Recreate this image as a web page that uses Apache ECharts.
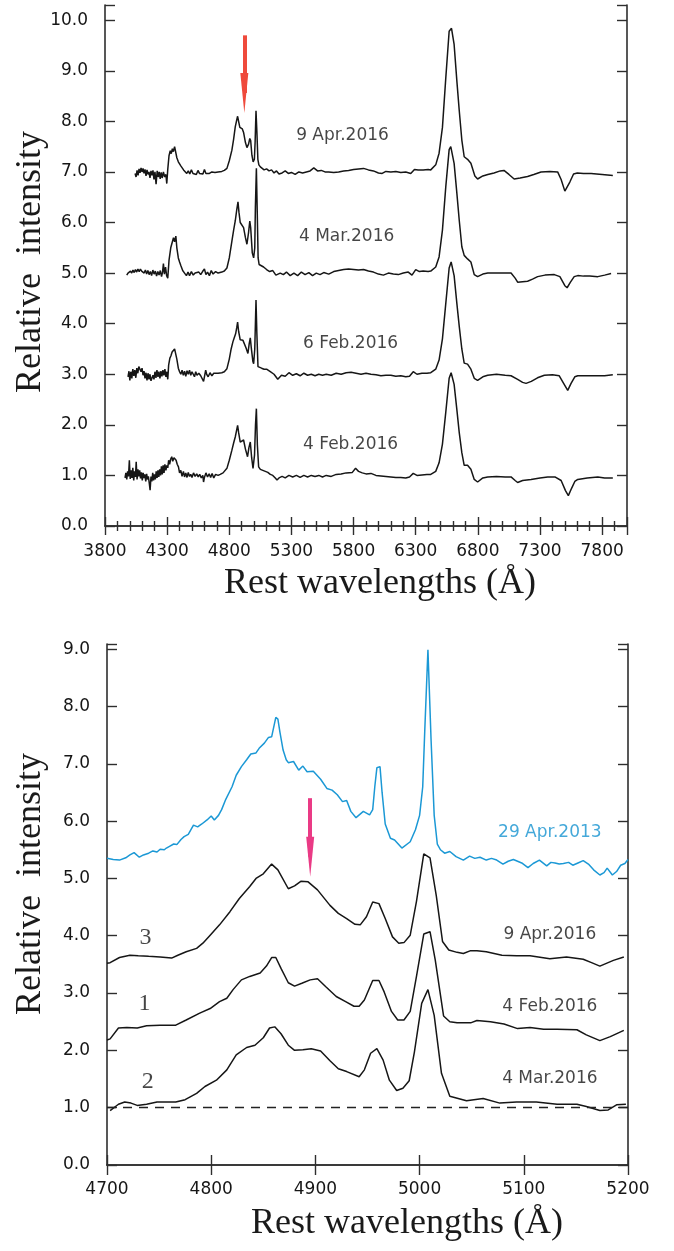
<!DOCTYPE html>
<html><head><meta charset="utf-8">
<script src="https://cdn.jsdelivr.net/npm/echarts@6/dist/echarts.min.js"></script>
<style>html,body{margin:0;padding:0;background:#fff}#c{width:674px;height:1251px}</style>
</head><body><div id="c"></div>
<script>
// ---------- TOP PANEL: full spectra (rest wavelength Å, relative intensity) ----------
const spec9Apr2016 = [[4042,6.97],[4050,6.9],[4058,7.03],[4066,6.93],[4074,7.06],[4082,6.98],[4090,7.08],[4098,7.0],[4106,7.07],[4114,6.97],[4122,7.05],[4130,6.92],[4138,7.04],[4146,6.95],[4154,7.0],[4162,6.88],[4170,7.02],[4178,6.93],[4186,7.03],[4194,6.85],[4202,7.0],[4211,6.76],[4220,7.02],[4228,6.9],[4236,7.0],[4244,6.86],[4252,6.99],[4260,6.88],[4270,7.0],[4280,6.9],[4290,6.95],[4297,6.77],[4305,7.05],[4315,7.32],[4325,7.42],[4333,7.36],[4342,7.46],[4350,7.4],[4360,7.5],[4369,7.53],[4378,7.28],[4390,7.2],[4400,7.17],[4410,7.12],[4422,7.1],[4432,7.04],[4445,7.07],[4458,6.97],[4470,7.02],[4482,6.96],[4495,7.04],[4508,6.97],[4520,7.0],[4535,6.95],[4548,7.03],[4560,6.97],[4575,7.0],[4588,6.96],[4600,7.05],[4612,6.97],[4625,7.0],[4640,6.97],[4660,7.0],[4685,6.99],[4710,7.0],[4740,7.01],[4760,7.03],[4781,7.07],[4800,7.22],[4821,7.43],[4835,7.65],[4848,7.89],[4860,8.03],[4867,8.1],[4875,8.0],[4885,7.88],[4894,7.89],[4905,7.85],[4915,7.78],[4930,7.58],[4942,7.48],[4955,7.55],[4965,7.66],[4972,7.62],[4982,7.33],[4992,7.2],[5002,7.25],[5008,7.6],[5015,8.21],[5022,7.8],[5030,7.25],[5038,7.14],[5050,7.1],[5065,7.08],[5080,7.04],[5100,7.06],[5120,7.02],[5140,7.04],[5160,6.98],[5180,7.02],[5200,6.96],[5225,6.98],[5250,7.02],[5275,6.97],[5300,6.99],[5330,6.95],[5360,7.0],[5390,6.98],[5420,7.0],[5450,7.02],[5480,7.08],[5510,7.02],[5540,7.03],[5570,7.0],[5600,7.0],[5640,6.99],[5680,7.0],[5720,7.02],[5760,7.03],[5800,7.05],[5840,7.06],[5880,7.07],[5920,7.04],[5960,7.02],[6000,6.98],[6030,6.97],[6060,7.01],[6100,7.0],[6140,7.01],[6180,6.99],[6220,7.0],[6260,6.97],[6290,7.05],[6320,7.04],[6360,7.04],[6400,7.05],[6421,7.04],[6461,7.14],[6488,7.37],[6515,7.88],[6542,8.86],[6569,9.78],[6588,9.84],[6609,9.52],[6631,8.8],[6650,8.22],[6671,7.63],[6690,7.3],[6717,7.25],[6744,7.17],[6776,6.92],[6798,6.86],[6840,6.92],[6880,6.95],[6930,6.98],[6980,7.02],[7010,7.03],[7050,6.95],[7092,6.86],[7140,6.88],[7200,6.91],[7250,6.95],[7308,7.0],[7380,7.01],[7442,7.0],[7470,6.85],[7500,6.62],[7512,6.6],[7540,6.8],[7570,6.96],[7600,6.98],[7650,6.97],[7711,6.97],[7800,6.95],[7886,6.93]];

const spec4Mar2016 = [[3975,4.96],[3985,5.0],[3995,4.97],[4005,5.04],[4015,5.0],[4025,5.06],[4035,5.01],[4045,5.07],[4055,5.02],[4065,5.08],[4075,5.03],[4085,5.08],[4095,5.04],[4105,5.06],[4115,5.0],[4125,5.06],[4135,4.98],[4145,5.05],[4155,4.97],[4165,5.03],[4175,4.95],[4185,5.06],[4195,4.98],[4205,5.04],[4215,4.94],[4225,5.03],[4235,4.96],[4245,5.05],[4255,4.93],[4263,5.02],[4270,5.19],[4278,4.98],[4287,5.12],[4296,4.95],[4305,4.9],[4315,5.25],[4329,5.5],[4340,5.6],[4351,5.7],[4360,5.62],[4370,5.73],[4378,5.5],[4390,5.3],[4400,5.22],[4410,5.15],[4425,5.05],[4440,5.0],[4455,4.95],[4468,5.02],[4480,4.95],[4495,5.03],[4510,4.96],[4525,5.0],[4540,4.97],[4555,5.02],[4570,4.97],[4585,5.03],[4600,5.08],[4612,4.97],[4625,5.02],[4640,4.95],[4655,5.05],[4670,4.98],[4690,5.03],[4710,5.0],[4740,5.02],[4760,5.04],[4781,5.1],[4800,5.3],[4821,5.63],[4835,5.85],[4848,6.03],[4860,6.25],[4870,6.41],[4878,6.2],[4888,6.0],[4900,6.02],[4915,5.9],[4930,5.7],[4942,5.57],[4955,5.8],[4965,6.03],[4972,5.9],[4985,5.4],[4996,5.3],[5005,5.5],[5010,6.3],[5018,7.07],[5025,6.2],[5032,5.3],[5040,5.17],[5055,5.15],[5076,5.12],[5100,5.07],[5125,5.03],[5150,5.05],[5175,4.96],[5190,4.93],[5210,5.0],[5235,4.97],[5260,5.02],[5290,4.95],[5320,5.0],[5350,4.95],[5380,5.02],[5410,4.97],[5440,5.01],[5470,4.95],[5500,5.0],[5530,4.97],[5560,5.01],[5600,4.98],[5640,5.03],[5680,5.05],[5720,5.07],[5760,5.08],[5800,5.07],[5840,5.06],[5880,5.07],[5920,5.04],[5960,5.02],[6000,4.98],[6040,4.96],[6080,5.0],[6120,4.98],[6160,4.97],[6200,5.0],[6240,5.02],[6270,4.96],[6300,5.07],[6330,5.03],[6360,5.04],[6400,5.03],[6421,5.04],[6461,5.12],[6488,5.32],[6515,5.85],[6542,6.71],[6569,7.44],[6582,7.5],[6609,7.17],[6631,6.58],[6650,6.05],[6671,5.52],[6690,5.35],[6717,5.28],[6744,5.22],[6771,4.97],[6798,4.93],[6840,4.98],[6880,5.0],[6950,5.0],[7020,5.0],[7067,5.0],[7100,4.9],[7120,4.82],[7160,4.83],[7200,4.84],[7240,4.88],[7281,4.93],[7340,4.96],[7415,4.97],[7460,4.93],[7500,4.75],[7518,4.71],[7545,4.82],[7575,4.93],[7604,4.95],[7650,4.94],[7700,4.94],[7765,4.93],[7820,4.96],[7872,4.99]];

const spec6Feb2016 = [[3985,2.95],[3993,3.06],[4000,2.88],[4008,3.05],[4016,2.92],[4024,3.1],[4032,2.97],[4040,3.08],[4048,2.93],[4056,3.12],[4064,3.02],[4072,3.15],[4082,3.18],[4090,3.05],[4098,3.12],[4106,2.98],[4114,3.06],[4122,2.92],[4130,3.03],[4138,2.88],[4146,3.02],[4154,2.9],[4162,3.0],[4170,2.87],[4178,2.84],[4186,2.98],[4194,2.9],[4202,3.05],[4210,2.93],[4218,3.08],[4226,2.95],[4234,3.05],[4242,2.92],[4250,3.06],[4258,2.96],[4266,3.08],[4274,2.98],[4282,3.1],[4290,2.95],[4298,3.05],[4305,2.9],[4312,3.18],[4322,3.32],[4330,3.36],[4340,3.44],[4350,3.42],[4360,3.5],[4370,3.53],[4378,3.3],[4390,3.12],[4400,3.05],[4410,3.0],[4420,3.08],[4430,2.98],[4440,3.06],[4450,2.96],[4460,3.07],[4470,3.0],[4480,3.08],[4490,2.98],[4500,3.05],[4510,3.02],[4520,2.95],[4530,3.05],[4540,2.98],[4555,3.02],[4570,2.97],[4585,3.0],[4593,2.86],[4600,2.95],[4610,3.08],[4618,3.0],[4630,2.95],[4645,3.03],[4660,2.97],[4675,3.02],[4690,3.0],[4710,3.02],[4740,3.03],[4760,3.05],[4781,3.11],[4800,3.3],[4815,3.5],[4829,3.64],[4840,3.72],[4851,3.8],[4860,3.92],[4867,4.03],[4875,3.85],[4888,3.68],[4900,3.7],[4910,3.67],[4920,3.67],[4935,3.52],[4950,3.41],[4960,3.6],[4969,3.72],[4978,3.5],[4990,3.25],[4996,3.21],[5005,3.5],[5015,4.47],[5022,3.8],[5031,3.15],[5045,3.13],[5060,3.12],[5080,3.1],[5100,3.1],[5130,3.05],[5160,3.0],[5190,2.9],[5220,2.98],[5250,2.96],[5280,3.03],[5310,2.98],[5340,3.01],[5370,2.97],[5400,3.02],[5430,2.98],[5460,3.0],[5490,2.97],[5520,3.0],[5550,2.98],[5580,3.0],[5620,2.98],[5660,3.02],[5700,3.0],[5740,3.03],[5780,3.04],[5820,3.02],[5860,3.0],[5900,3.02],[5940,3.0],[5980,2.99],[6020,2.97],[6060,2.98],[6100,2.98],[6140,2.96],[6180,2.97],[6220,2.95],[6250,2.96],[6280,3.05],[6310,3.0],[6350,3.02],[6390,3.02],[6421,3.03],[6461,3.1],[6488,3.28],[6515,3.7],[6542,4.4],[6569,5.1],[6585,5.22],[6609,4.95],[6631,4.4],[6650,3.95],[6671,3.5],[6690,3.22],[6717,3.2],[6744,3.1],[6771,2.92],[6798,2.88],[6840,2.95],[6879,2.98],[6950,3.0],[7020,2.98],[7067,2.97],[7120,2.9],[7160,2.84],[7188,2.82],[7230,2.86],[7280,2.93],[7335,2.98],[7400,2.99],[7455,2.97],[7490,2.82],[7523,2.68],[7550,2.82],[7580,2.95],[7604,2.97],[7680,2.97],[7765,2.97],[7820,2.97],[7886,2.99]];

const spec4Feb2016 = [[3961,0.95],[3968,1.05],[3975,0.92],[3982,1.08],[3989,0.98],[3996,1.3],[4003,0.93],[4010,1.1],[4017,0.95],[4024,1.15],[4031,0.9],[4038,1.08],[4045,0.97],[4051,1.27],[4058,0.92],[4065,1.12],[4072,0.98],[4079,1.1],[4086,0.94],[4093,1.06],[4100,0.9],[4107,1.05],[4114,0.95],[4121,1.02],[4128,0.88],[4135,1.03],[4142,0.92],[4149,0.98],[4156,0.85],[4163,0.71],[4170,0.98],[4177,0.88],[4184,1.05],[4191,0.9],[4198,1.02],[4205,0.92],[4212,1.08],[4219,0.95],[4226,1.1],[4233,0.97],[4240,1.12],[4247,1.0],[4254,1.18],[4261,1.02],[4268,1.2],[4275,1.05],[4282,1.22],[4290,1.1],[4297,1.2],[4305,1.15],[4312,1.3],[4320,1.22],[4328,1.32],[4337,1.37],[4345,1.28],[4355,1.35],[4364,1.38],[4372,1.3],[4381,1.22],[4391,1.17],[4400,1.05],[4410,1.1],[4420,0.98],[4431,1.08],[4440,0.97],[4450,1.05],[4460,0.96],[4470,1.06],[4480,0.98],[4490,1.02],[4500,0.96],[4512,1.05],[4525,0.98],[4538,1.03],[4550,0.97],[4562,1.02],[4575,0.95],[4587,1.0],[4593,0.87],[4600,0.96],[4612,1.05],[4625,0.97],[4638,1.03],[4650,0.96],[4662,1.04],[4675,0.95],[4690,1.02],[4710,1.0],[4727,1.02],[4750,1.05],[4765,1.08],[4781,1.14],[4800,1.3],[4821,1.5],[4835,1.64],[4848,1.76],[4858,1.88],[4867,1.99],[4875,1.85],[4888,1.66],[4900,1.68],[4915,1.7],[4930,1.52],[4947,1.37],[4958,1.55],[4969,1.66],[4980,1.35],[4991,1.14],[5003,1.4],[5011,2.0],[5018,2.32],[5026,1.6],[5036,1.17],[5050,1.12],[5070,1.1],[5090,1.08],[5110,1.06],[5130,1.02],[5150,1.0],[5170,0.95],[5184,0.91],[5200,0.95],[5225,0.98],[5250,0.95],[5280,1.0],[5310,0.97],[5340,1.0],[5370,0.96],[5400,1.0],[5430,0.97],[5460,1.0],[5490,0.98],[5520,1.0],[5550,0.97],[5580,1.0],[5620,0.98],[5660,1.02],[5700,1.03],[5740,1.05],[5790,1.06],[5816,1.14],[5840,1.08],[5870,1.05],[5900,1.03],[5940,1.04],[5980,1.0],[6020,0.99],[6060,0.98],[6100,0.97],[6140,0.96],[6180,0.96],[6220,0.95],[6250,0.97],[6280,1.04],[6310,1.0],[6350,1.01],[6390,1.02],[6421,1.02],[6461,1.08],[6488,1.25],[6515,1.62],[6542,2.25],[6569,2.92],[6585,3.03],[6609,2.8],[6631,2.3],[6650,1.85],[6671,1.45],[6690,1.2],[6717,1.2],[6744,1.12],[6771,0.92],[6798,0.87],[6840,0.95],[6879,0.97],[6950,0.98],[7020,0.97],[7067,0.97],[7100,0.9],[7120,0.86],[7160,0.9],[7228,0.92],[7300,0.95],[7362,0.97],[7420,0.97],[7470,0.9],[7505,0.7],[7528,0.6],[7555,0.75],[7580,0.88],[7604,0.92],[7680,0.95],[7765,0.97],[7820,0.95],[7886,0.95]];

const topLabels = ['9 Apr.2016', '4 Mar.2016', '6 Feb.2016', '4 Feb.2016'];

// ---------- BOTTOM PANEL: 4700–5200 Å zoom ----------
const spec29Apr2013 = [[4700,5.35],[4706,5.33],[4712,5.32],[4718,5.36],[4722,5.41],[4726,5.45],[4731,5.37],[4735,5.41],[4740,5.44],[4744,5.48],[4748,5.46],[4751,5.51],[4755,5.5],[4757,5.53],[4760,5.56],[4764,5.6],[4767,5.59],[4771,5.68],[4774,5.73],[4778,5.77],[4783,5.93],[4787,5.9],[4791,5.95],[4796,6.02],[4800,6.09],[4803,6.02],[4807,6.1],[4810,6.2],[4814,6.38],[4820,6.6],[4824,6.8],[4829,6.95],[4834,7.07],[4838,7.17],[4843,7.19],[4846,7.27],[4851,7.36],[4855,7.46],[4858,7.47],[4862,7.81],[4864,7.78],[4866,7.55],[4869,7.24],[4872,7.07],[4874,7.02],[4879,7.04],[4884,6.89],[4888,6.96],[4892,6.86],[4898,6.87],[4905,6.73],[4911,6.57],[4916,6.54],[4921,6.46],[4926,6.34],[4930,6.36],[4934,6.17],[4939,6.06],[4946,6.17],[4952,6.11],[4955,6.2],[4957,6.6],[4959,6.93],[4962,6.95],[4964,6.5],[4967,5.95],[4972,5.7],[4976,5.67],[4983,5.53],[4991,5.64],[4996,5.85],[5000,6.1],[5003,6.6],[5005,7.6],[5008,8.99],[5011,7.42],[5014,6.1],[5017,5.6],[5020,5.5],[5024,5.44],[5029,5.47],[5035,5.38],[5042,5.32],[5048,5.39],[5053,5.35],[5058,5.37],[5064,5.32],[5069,5.35],[5074,5.32],[5080,5.25],[5085,5.3],[5090,5.33],[5098,5.27],[5104,5.19],[5109,5.26],[5115,5.32],[5122,5.22],[5126,5.28],[5130,5.27],[5134,5.25],[5138,5.26],[5143,5.28],[5147,5.23],[5152,5.27],[5157,5.31],[5162,5.25],[5167,5.15],[5173,5.06],[5177,5.1],[5180,5.18],[5185,5.06],[5189,5.12],[5193,5.23],[5197,5.26],[5200,5.33]];

const spec9Apr2016z = [[4700,3.52],[4703,3.53],[4712,3.62],[4722,3.66],[4730,3.65],[4740,3.64],[4751,3.63],[4762,3.61],[4768,3.66],[4776,3.72],[4786,3.78],[4792,3.87],[4799,4.01],[4808,4.19],[4818,4.42],[4827,4.65],[4837,4.86],[4843,5.0],[4850,5.08],[4858,5.25],[4864,5.15],[4874,4.82],[4880,4.87],[4886,4.95],[4893,4.94],[4902,4.8],[4914,4.53],[4922,4.39],[4930,4.3],[4938,4.2],[4943,4.19],[4949,4.33],[4955,4.59],[4961,4.56],[4967,4.3],[4974,3.98],[4980,3.87],[4985,3.88],[4991,4.01],[4997,4.6],[5004,5.43],[5010,5.36],[5016,4.7],[5022,3.9],[5028,3.75],[5036,3.71],[5042,3.69],[5049,3.74],[5055,3.74],[5064,3.72],[5079,3.66],[5093,3.65],[5106,3.65],[5125,3.6],[5141,3.63],[5157,3.59],[5165,3.53],[5173,3.47],[5186,3.57],[5196,3.63]];

const spec4Feb2016z = [[4700,2.18],[4703,2.2],[4711,2.39],[4719,2.4],[4729,2.39],[4738,2.43],[4751,2.44],[4766,2.44],[4776,2.53],[4789,2.65],[4799,2.73],[4808,2.85],[4815,2.91],[4821,3.06],[4829,3.23],[4837,3.29],[4847,3.35],[4853,3.47],[4858,3.62],[4862,3.62],[4867,3.43],[4874,3.18],[4880,3.12],[4887,3.17],[4895,3.23],[4902,3.25],[4910,3.11],[4920,2.94],[4929,2.85],[4937,2.77],[4942,2.77],[4947,2.88],[4955,3.22],[4961,3.22],[4966,3.02],[4973,2.68],[4979,2.53],[4985,2.53],[4991,2.68],[4997,3.29],[5004,4.03],[5010,4.07],[5015,3.58],[5023,2.6],[5029,2.5],[5036,2.48],[5049,2.48],[5055,2.52],[5068,2.5],[5081,2.46],[5094,2.38],[5106,2.4],[5119,2.37],[5132,2.37],[5151,2.36],[5160,2.27],[5173,2.17],[5183,2.24],[5196,2.35]];

const spec4Mar2016z = [[4703,0.95],[4711,1.06],[4717,1.1],[4723,1.08],[4729,1.04],[4738,1.06],[4748,1.1],[4757,1.1],[4766,1.1],[4775,1.14],[4786,1.25],[4794,1.37],[4805,1.48],[4815,1.66],[4824,1.92],[4834,2.05],[4842,2.09],[4850,2.22],[4856,2.39],[4861,2.41],[4867,2.29],[4874,2.09],[4880,2.0],[4888,2.01],[4896,2.03],[4905,1.99],[4914,1.82],[4922,1.68],[4930,1.63],[4942,1.54],[4947,1.66],[4953,1.95],[4959,2.03],[4965,1.83],[4971,1.48],[4978,1.3],[4984,1.34],[4990,1.47],[4995,1.97],[5002,2.82],[5008,3.06],[5014,2.61],[5021,1.6],[5029,1.2],[5045,1.12],[5061,1.16],[5077,1.08],[5093,1.1],[5112,1.1],[5132,1.06],[5151,1.06],[5160,1.02],[5173,0.95],[5181,0.96],[5189,1.05],[5198,1.06]];

const bottomLabels = ['29 Apr.2013', '9 Apr.2016', '4 Feb.2016', '4 Mar.2016'];
const curveNumbers = ['3', '1', '2'];
const continuumLevel = 1.0;

// ---------- layout (annotation anchors in data coordinates) ----------
const topLabelAt = [[5711, 7.71], [5744, 5.73], [5776, 3.61], [5776, 1.60]];
const bottomLabelAt = [[5125, 5.80], [5125, 4.02], [5125, 2.76], [5125, 1.51]];
const curveNumberAt = [[4737, 3.96], [4736, 2.82], [4739, 1.45]];
const topArrow = { x: 4921, from: 9.70, head: 8.56 };
const bottomArrow = { x: 4895, from: 6.40, head: 5.38 };

const AX = '#2e2e2e';
const TXT = '#161616';
const TICKFONT = '"DejaVu Sans", sans-serif';
const SERIF = '"Liberation Serif", "Times New Roman", serif';
const axisLineStyle = { color: AX, width: 1.6 };
const tickStyle = { color: AX, width: 1.4 };

function lineSeries(data, xi, yi, color) {
  return { type: 'line', data, xAxisIndex: xi, yAxisIndex: yi, showSymbol: false, symbol: 'none',
    lineStyle: { color, width: 1.5 }, silent: true, animation: false, z: 3 };
}
function labelSeries(texts, at, xi, yi, style) {
  return { type: 'scatter', xAxisIndex: xi, yAxisIndex: yi, symbolSize: 1, silent: true, animation: false,
    itemStyle: { color: 'rgba(0,0,0,0)' },
    data: texts.map((t, i) => ({ value: at[i], name: t })),
    label: Object.assign({ show: true, position: 'inside', formatter: '{b}' }, style), z: 5 };
}
function arrowSeries(a, xi, yi, color, size) {
  return { type: 'line', xAxisIndex: xi, yAxisIndex: yi, data: [], silent: true, animation: false,
    markLine: { silent: true, symbol: ['none', 'triangle'], symbolSize: size, animation: false,
      label: { show: false }, lineStyle: { color, width: 4, type: 'solid' }, itemStyle: { color },
      data: [[{ coord: [a.x, a.from] }, { coord: [a.x, a.head] }]] }, z: 6 };
}

const fmtY = v => (Math.abs(v - Math.round(v)) < 1e-9 ? v.toFixed(1) : '');

const option = {
  animation: false,
  backgroundColor: '#fff',
  grid: [
    { left: 105, right: 47, top: 5, height: 521 },
    { left: 107, right: 46, top: 644, height: 521 }
  ],
  xAxis: [
    { gridIndex: 0, type: 'value', position: 'bottom', min: 3800, max: 8000, interval: 500,
      axisLine: { lineStyle: axisLineStyle }, axisTick: { inside: true, length: 9, lineStyle: tickStyle },
      minorTick: { show: true, splitNumber: 5, length: 5, lineStyle: tickStyle },
      splitLine: { show: false }, minorSplitLine: { show: false },
      axisLabel: { margin: 17, fontFamily: TICKFONT, fontSize: 17, color: TXT, formatter: v => (v === 8000 ? '' : String(v)) } },
    { gridIndex: 0, type: 'value', position: 'top', min: 3800, max: 8000, interval: 500,
      axisLine: { lineStyle: axisLineStyle }, axisTick: { inside: true, length: 9, lineStyle: tickStyle },
      minorTick: { show: true, splitNumber: 5, length: 5, lineStyle: tickStyle },
      splitLine: { show: false }, axisLabel: { show: false } },
    { gridIndex: 1, type: 'value', position: 'bottom', min: 4700, max: 5200, interval: 100,
      axisLine: { lineStyle: axisLineStyle }, axisTick: { inside: true, length: 10, lineStyle: tickStyle },
      splitLine: { show: false },
      axisLabel: { margin: 16, fontFamily: TICKFONT, fontSize: 17, color: TXT, formatter: v => String(v) } },
    { gridIndex: 1, type: 'value', position: 'top', min: 4700, max: 5200, interval: 100,
      axisLine: { lineStyle: axisLineStyle }, axisTick: { inside: true, length: 10, lineStyle: tickStyle },
      splitLine: { show: false }, axisLabel: { show: false } }
  ],
  yAxis: [
    { gridIndex: 0, type: 'value', position: 'left', min: 0, max: 10.3, interval: 1,
      axisLine: { show: true, lineStyle: axisLineStyle }, axisTick: { show: true, inside: true, length: 10, lineStyle: tickStyle },
      splitLine: { show: false },
      axisLabel: { margin: 17, fontFamily: TICKFONT, fontSize: 17, color: TXT, formatter: fmtY } },
    { gridIndex: 0, type: 'value', position: 'right', min: 0, max: 10.3, interval: 1,
      axisLine: { show: true, lineStyle: axisLineStyle }, axisTick: { show: true, inside: true, length: 10, lineStyle: tickStyle },
      splitLine: { show: false }, axisLabel: { show: false } },
    { gridIndex: 1, type: 'value', position: 'left', min: 0, max: 9.09, interval: 1,
      axisLine: { show: true, lineStyle: axisLineStyle }, axisTick: { show: true, inside: true, length: 10, lineStyle: tickStyle },
      splitLine: { show: false },
      axisLabel: { margin: 17, fontFamily: TICKFONT, fontSize: 17, color: TXT, formatter: fmtY } },
    { gridIndex: 1, type: 'value', position: 'right', min: 0, max: 9.09, interval: 1,
      axisLine: { show: true, lineStyle: axisLineStyle }, axisTick: { show: true, inside: true, length: 10, lineStyle: tickStyle },
      splitLine: { show: false }, axisLabel: { show: false } }
  ],
  series: [
    lineSeries(spec9Apr2016, 0, 0, '#161616'),
    lineSeries(spec4Mar2016, 0, 0, '#161616'),
    lineSeries(spec6Feb2016, 0, 0, '#161616'),
    lineSeries(spec4Feb2016, 0, 0, '#161616'),
    labelSeries(topLabels, topLabelAt, 0, 0, { fontFamily: TICKFONT, fontSize: 17, color: TXT }),
    arrowSeries(topArrow, 0, 0, '#ef4a3c', [8, 40]),

    lineSeries(spec29Apr2013, 2, 2, '#1b98d5'),
    lineSeries(spec9Apr2016z, 2, 2, '#161616'),
    lineSeries(spec4Feb2016z, 2, 2, '#161616'),
    Object.assign(lineSeries(spec4Mar2016z, 2, 2, '#161616'), {
      markLine: { silent: true, symbol: ['none', 'none'], animation: false, label: { show: false },
        lineStyle: { color: '#222', width: 1.4, type: [9, 7] }, data: [{ yAxis: continuumLevel }] } }),
    labelSeries(bottomLabels.slice(0, 1), bottomLabelAt.slice(0, 1), 2, 2, { fontFamily: TICKFONT, fontSize: 17, color: '#1592cf' }),
    labelSeries(bottomLabels.slice(1), bottomLabelAt.slice(1), 2, 2, { fontFamily: TICKFONT, fontSize: 17, color: TXT }),
    labelSeries(curveNumbers, curveNumberAt, 2, 2, { fontFamily: SERIF, fontSize: 24, color: TXT }),
    arrowSeries(bottomArrow, 2, 2, '#ea3a85', [8, 40])
  ],
  graphic: [
    { type: 'text', x: 31, y: 262, rotation: Math.PI / 2, silent: true,
      style: { text: 'Relative  intensity', font: '36px ' + SERIF, fill: '#1a1a1a', align: 'center', verticalAlign: 'middle' } },
    { type: 'text', x: 380, y: 584, silent: true,
      style: { text: 'Rest wavelengths (Å)', font: '36px ' + SERIF, fill: '#1a1a1a', align: 'center', verticalAlign: 'middle' } },
    { type: 'text', x: 31, y: 884, rotation: Math.PI / 2, silent: true,
      style: { text: 'Relative  intensity', font: '36px ' + SERIF, fill: '#1a1a1a', align: 'center', verticalAlign: 'middle' } },
    { type: 'text', x: 407, y: 1224, silent: true,
      style: { text: 'Rest wavelengths (Å)', font: '36px ' + SERIF, fill: '#1a1a1a', align: 'center', verticalAlign: 'middle' } }
  ]
};

const chart = echarts.init(document.getElementById('c'), null, { renderer: 'canvas', width: 674, height: 1251 });
chart.setOption(option);
</script>
</body></html>
